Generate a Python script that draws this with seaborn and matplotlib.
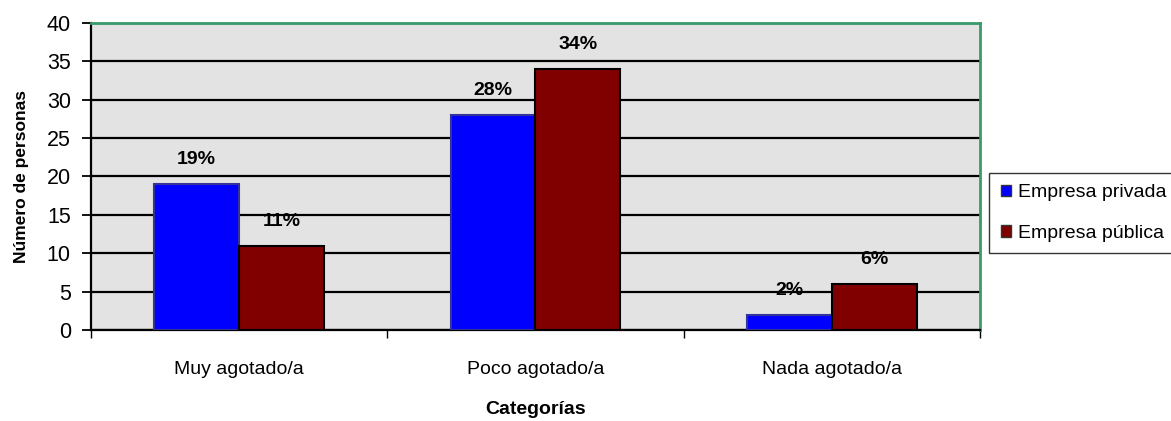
"""
Cansancio por tipo de empresa - barras agrupadas
"""
import numpy as np
import pandas as pd
import seaborn as sns
import matplotlib.pyplot as plt
from matplotlib.patches import Patch

categorias = ["Muy agotado/a", "Poco agotado/a", "Nada agotado/a"]
privada = [19, 28, 2]
publica = [11, 34, 6]
pct_privada = ["19%", "28%", "2%"]
pct_publica = ["11%", "34%", "6%"]
series = ["Empresa privada", "Empresa pública"]
colores = ["#0000ff", "#800000"]
bordes = ["#333399", "#000000"]

df = pd.DataFrame({
    "categoria": categorias * 2,
    "valor": privada + publica,
    "serie": [series[0]] * 3 + [series[1]] * 3,
})

sns.set_style("white")
plt.rcParams["font.family"] = ["Liberation Sans", "DejaVu Sans"]
plt.rcParams.update({"text.color": "black", "axes.labelcolor": "black",
                     "xtick.color": "black", "ytick.color": "black"})

fig = plt.figure(figsize=(11.71, 4.21), dpi=100)
ax = fig.add_axes([0.0777, 0.2162, 0.7592, 0.7292])
ax.set_facecolor("#e3e3e3")

sns.barplot(data=df, x="categoria", y="valor", hue="serie", palette=colores,
            saturation=1, width=0.573, gap=0, linewidth=1.5,
            legend=False, ax=ax, zorder=3)

# bordes y etiquetas de porcentaje
for cont, labs, ec in zip(ax.containers, [pct_privada, pct_publica], bordes):
    for bar, lab in zip(cont, labs):
        bar.set_edgecolor(ec)
        ax.annotate(lab, (bar.get_x() + bar.get_width() / 2, bar.get_height()),
                    xytext=(0, 17.5), textcoords="offset points", ha="center",
                    va="center", fontsize=14, fontweight="bold", zorder=5)

ax.set_ylim(0, 40)
ax.set_xlim(-0.5, 2.5)
ax.set_yticks(np.arange(0, 41, 5))
ax.yaxis.grid(True, color="black", linewidth=1.6, zorder=1)
ax.set_axisbelow(True)
ax.tick_params(axis="y", length=6.5, width=1.3, labelsize=15.5, pad=8, left=True)
ax.set_xticks([-0.5, 0.5, 1.5, 2.5], minor=True)
ax.tick_params(axis="x", which="major", length=0, labelsize=14, pad=22)
ax.tick_params(axis="x", which="minor", length=6, width=1, bottom=True)

for s in ["left", "bottom"]:
    ax.spines[s].set_color("black")
    ax.spines[s].set_linewidth(1.6)
for s in ["top", "right"]:
    ax.spines[s].set_color("#3a9a6a")
    ax.spines[s].set_linewidth(2)

ax.set_xlabel("Categorías", fontsize=14, fontweight="bold", labelpad=17)
ax.set_ylabel("Número de personas", fontsize=12.5, fontweight="bold", labelpad=13)

handles = [Patch(facecolor=c, edgecolor="#333333", label=s) for c, s in zip(colores, series)]
leg = fig.legend(handles=handles, loc="upper left", bbox_to_anchor=(0.8445, 0.59),
                 frameon=True, fancybox=False, edgecolor="black", fontsize=14,
                 handlelength=0.55, handleheight=0.55, handletextpad=0.35,
                 labelspacing=1.2, borderpad=0.6, borderaxespad=0)
leg.get_frame().set_linewidth(1)

fig.savefig("out.png", dpi=100)
